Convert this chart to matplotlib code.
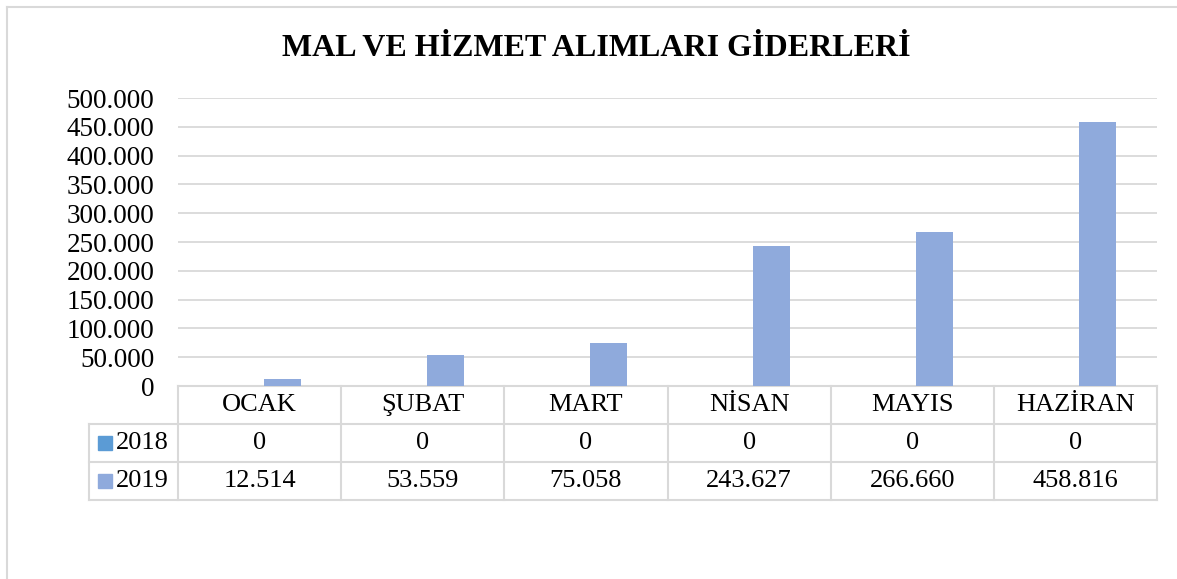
import matplotlib

matplotlib.use("Agg")

import matplotlib.pyplot as plt
from matplotlib.lines import Line2D
from matplotlib.patches import Rectangle
from matplotlib.ticker import FuncFormatter
import numpy as np

plt.rcParams["font.family"] = ["Liberation Serif", "DejaVu Serif"]

MONTHS = ["OCAK", "ŞUBAT", "MART", "NİSAN", "MAYIS", "HAZİRAN"]
SERIES = ["2018", "2019"]
VALUES_2018 = [0, 0, 0, 0, 0, 0]
VALUES_2019 = [12514, 53559, 75058, 243627, 266660, 458816]
COLORS = ["#5B9BD5", "#8FAADC"]
TITLE = "MAL VE HİZMET ALIMLARI GİDERLERİ"

W, H = 1177, 579
GRID = "#d9d9d9"
FS = 19


def fmt(v):
    return f"{int(v):,}".replace(",", ".")


fig = plt.figure(figsize=(W / 100, H / 100), dpi=100)
left, right, top, bottom = 178, 1157, 98, 386
ax = fig.add_axes([left / W, 1 - bottom / H, (right - left) / W, (bottom - top) / H])

x = np.arange(len(MONTHS))
bw, off = 0.227, 0.138
for vals, c, o in [(VALUES_2018, COLORS[0], -off), (VALUES_2019, COLORS[1], off)]:
    ax.bar(x + o, vals, width=bw, color=c, zorder=3)

ax.set_xlim(-0.5, len(MONTHS) - 0.5)
ax.set_ylim(0, 500000)
ax.set_yticks(np.arange(0, 500001, 50000))
ax.yaxis.set_major_formatter(FuncFormatter(lambda v, p: fmt(v)))
ax.tick_params(axis="y", length=0, pad=17, labelsize=FS + 0.5)
ax.set_xticks([])
ax.grid(axis="y", color=GRID, linewidth=1.3, zorder=0)
for s in ax.spines.values():
    s.set_visible(False)

# data table below the plot
tr = ax.get_xaxis_transform()
row_h = 38 / (bottom - top)
cat_px = (right - left) / len(MONTHS)
lab_left = -0.5 - (left - 89) / cat_px
lw = 1.5
ys = [0, -row_h, -2 * row_h, -3 * row_h]
for i, y in enumerate(ys):
    x0 = -0.5 if i == 0 else lab_left
    ax.add_line(Line2D([x0, len(MONTHS) - 0.5], [y, y], transform=tr, color=GRID, lw=lw, clip_on=False))
for k in range(len(MONTHS) + 1):
    xb = -0.5 + k
    ax.add_line(Line2D([xb, xb], [0, ys[-1]], transform=tr, color=GRID, lw=lw, clip_on=False))
ax.add_line(Line2D([lab_left, lab_left], [ys[1], ys[-1]], transform=tr, color=GRID, lw=lw, clip_on=False))

for i, m in enumerate(MONTHS):
    ax.text(i, -row_h / 2, m, transform=tr, ha="center", va="center", fontsize=FS)
    ax.text(i, -1.5 * row_h, fmt(VALUES_2018[i]), transform=tr, ha="center", va="center", fontsize=FS)
    ax.text(i, -2.5 * row_h, fmt(VALUES_2019[i]), transform=tr, ha="center", va="center", fontsize=FS)

sq = 14 / cat_px
sq_h = 14 / (bottom - top)
for j, (name, c) in enumerate(zip(SERIES, COLORS)):
    yc = -(1.5 + j) * row_h
    sx = -0.5 - (left - 98) / cat_px
    ax.add_patch(Rectangle((sx, yc - sq_h / 2), sq, sq_h, transform=tr, color=c, clip_on=False))
    ax.text(-0.5 - (left - 116) / cat_px, yc, name, transform=tr, ha="left", va="center", fontsize=FS)

fig.text(596 / W, 1 - 48 / H, TITLE, ha="center", va="center", fontsize=23, fontweight="bold")

# chart frame
fig.add_artist(Line2D([7 / W, 7 / W], [0, 1 - 7 / H], color=GRID, lw=1.5))
fig.add_artist(Line2D([7 / W, 1], [1 - 7 / H, 1 - 7 / H], color=GRID, lw=1.5))

fig.savefig("out.png", dpi=100)
